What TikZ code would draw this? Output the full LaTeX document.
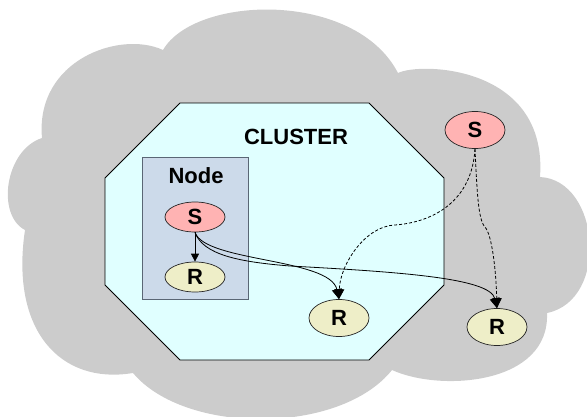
\documentclass[tikz,border=0pt]{standalone}
\usepackage{fontspec}
\setmainfont{Liberation Sans}
\usetikzlibrary{shapes.geometric,arrows.meta}
\definecolor{cloudgray}{HTML}{CCCCCC}
\definecolor{clusterfill}{HTML}{E0FFFF}
\definecolor{boxfill}{HTML}{CCDAEA}
\definecolor{boxline}{HTML}{5A6675}
\definecolor{sfill}{HTML}{FFB3B3}
\definecolor{rfill}{HTML}{EEEEC8}
\begin{document}
\begin{tikzpicture}[x=1pt,y=-1pt,
  lbl/.style={font=\fontsize{22}{26}\selectfont\bfseries},
  proc/.style={ellipse, draw=black!85, line width=0.7pt, minimum width=60pt, inner sep=0pt, lbl},
  sproc/.style={proc, fill=sfill},
  rproc/.style={proc, fill=rfill},
  conn/.style={draw=black, line width=0.8pt},
  bigtip/.style={-{Triangle[length=10pt,width=10pt]}},
  smalltip/.style={-{Triangle[length=8pt,width=8pt]}},
  dashconn/.style={conn, dash pattern=on 3pt off 2pt}]
\useasboundingbox (0,0) rectangle (587,416);
\clip (0,0) rectangle (587,416);
% cloud
\fill[cloudgray] (42,138) .. controls (35,60) and (120,30) .. (163,50)
  .. controls (195,-5) and (355,-10) .. (398,73)
  .. controls (420,62) and (548,65) .. (540,177)
  .. controls (600,180) and (610,300) .. (547,313)
  .. controls (550,385) and (440,392) .. (392,370)
  .. controls (340,435) and (185,435) .. (133,373)
  .. controls (60,385) and (10,330) .. (25,230)
  .. controls (-4,215) and (5,150) .. (42,138) -- cycle;
% cluster octagon
\filldraw[fill=clusterfill, draw=black, line width=0.8pt]
  (180,103) -- (369,103) -- (444,178) -- (444,285) -- (369,360)
  -- (180,360) -- (105,285) -- (105,178) -- cycle;
\node[lbl] (cluster) at (296,137) {CLUSTER};
% node box
\node[draw=boxline, fill=boxfill, line width=1pt, minimum width=106pt,
      minimum height=142pt, inner sep=0pt] (nodebox) at (195,228) {};
\node[lbl] (nodelbl) at (196,176) {Node};
% processes
\node[sproc, minimum height=30pt] (s1) at (195,217) {S};
\node[rproc, minimum height=30pt] (r1) at (195,277) {R};
\node[rproc, minimum height=37pt] (r2) at (339,318) {R};
\node[sproc, minimum height=37pt] (s2) at (475,130) {S};
\node[rproc, minimum height=37pt] (r3) at (497,327) {R};
% connectors
\draw[conn, smalltip] (s1) -- (r1);
\draw[conn, bigtip] (s1.south) .. controls (205,262) and (330,258) .. (r2.north);
\draw[conn, bigtip] (s1.south) .. controls (203,255) and (240,262) .. (290,266)
  .. controls (400,272) and (490,278) .. (r3.north);
\draw[dashconn, bigtip] (s2.south) .. controls (472,200) and (435,222) .. (395,225)
  .. controls (365,226) and (340,265) .. (r2.north);
\draw[dashconn, bigtip] (s2.south) .. controls (477,190) and (478,220) .. (485,227)
  .. controls (492,235) and (496,270) .. (r3.north);
\end{tikzpicture}
\end{document}
